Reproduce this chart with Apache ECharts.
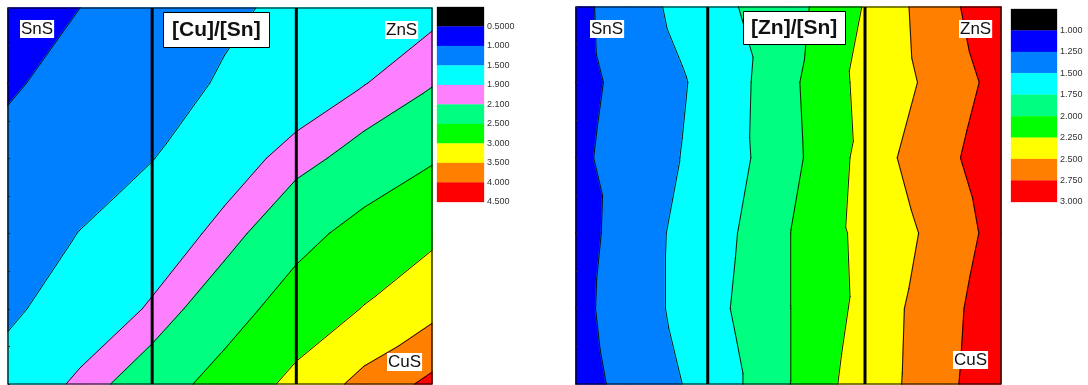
<!DOCTYPE html>
<html>
<head>
<meta charset="utf-8">
<script src="https://cdn.jsdelivr.net/npm/echarts@6/dist/echarts.min.js"></script>
<style>
  html, body { margin: 0; padding: 0; background: #fff; }
  #chart { width: 1088px; height: 385px; }
</style>
</head>
<body>
<div id="chart"></div>
<script>
// ---- [Cu]/[Sn] map: node positions (fraction across / down the panel) and measured ratios ----
const cuCols = [0, 0.17, 0.34, 0.51, 0.68, 0.84, 1];
const cuRows = [0, 0.2, 0.4, 0.6, 0.8, 1];
const cuSnValues = [
  [0.78, 1.00, 1.22, 1.43, 1.59, 1.70, 1.82],
  [0.95, 1.145, 1.34, 1.54, 1.72, 1.89, 2.08],
  [1.12, 1.31, 1.49, 1.76, 2.00, 2.22, 2.46],
  [1.29, 1.51, 1.72, 1.98, 2.36, 2.65, 2.90],
  [1.435, 1.68, 1.935, 2.31, 2.70, 3.02, 3.35],
  [1.65, 1.96, 2.29, 2.66, 3.13, 3.65, 4.12]
];
const cuLevels = [0.5, 1.0, 1.5, 1.9, 2.1, 2.5, 3.0, 3.5, 4.0, 4.5];
const cuLevelLabels = ['0.5000', '1.000', '1.500', '1.900', '2.100', '2.500', '3.000', '3.500', '4.000', '4.500'];
const cuColors = ['#000000', '#0000ff', '#0080ff', '#00ffff', '#ff80ff', '#00ff80', '#00ff00', '#ffff00', '#ff8000', '#ff0000'];
const cuDividers = [0.34, 0.68];

// ---- [Zn]/[Sn] map ----
const znCols = [0, 0.125, 0.25, 0.375, 0.5, 0.625, 0.75, 0.875, 1];
const znRows = [0, 0.2, 0.4, 0.6, 0.8, 1];
const znSnValues = [
  [1.18, 1.38, 1.57, 1.74, 1.91, 2.14, 2.43, 2.69, 2.94],
  [1.17, 1.325, 1.48, 1.67, 1.94, 2.22, 2.41, 2.62, 2.84],
  [1.20, 1.35, 1.507, 1.68, 1.92, 2.205, 2.49, 2.70, 2.91],
  [1.15, 1.36, 1.56, 1.74, 1.99, 2.23, 2.41, 2.61, 2.85],
  [1.18, 1.37, 1.56, 1.77, 1.99, 2.22, 2.46, 2.68, 2.91],
  [1.15, 1.325, 1.50, 1.71, 1.99, 2.27, 2.47, 2.70, 2.94]
];
const znLevels = [1.0, 1.25, 1.5, 1.75, 2.0, 2.25, 2.5, 2.75, 3.0];
const znLevelLabels = ['1.000', '1.250', '1.500', '1.750', '2.000', '2.250', '2.500', '2.750', '3.000'];
const znColors = ['#000000', '#0000ff', '#0080ff', '#00ffff', '#00ff80', '#00ff00', '#ffff00', '#ff8000', '#ff0000'];
const znDividers = [0.31, 0.68];

// Split every grid cell into two triangles (linear interpolation inside each)
function triangles(cols, rows, vals) {
  const tris = [];
  for (let r = 0; r < rows.length - 1; r++) {
    for (let c = 0; c < cols.length - 1; c++) {
      const p00 = [cols[c], rows[r], vals[r][c]];
      const p10 = [cols[c + 1], rows[r], vals[r][c + 1]];
      const p01 = [cols[c], rows[r + 1], vals[r + 1][c]];
      const p11 = [cols[c + 1], rows[r + 1], vals[r + 1][c + 1]];
      tris.push([p00, p10, p01]);
      tris.push([p10, p11, p01]);
    }
  }
  return tris;
}

// Keep the part of a polygon above (or below) a level
function clip(poly, L, keepAbove) {
  const out = [];
  for (let i = 0; i < poly.length; i++) {
    const a = poly[i], b = poly[(i + 1) % poly.length];
    const ina = keepAbove ? a[2] >= L : a[2] <= L;
    const inb = keepAbove ? b[2] >= L : b[2] <= L;
    if (ina) out.push(a);
    if (ina !== inb) {
      const t = (L - a[2]) / (b[2] - a[2]);
      out.push([a[0] + t * (b[0] - a[0]), a[1] + t * (b[1] - a[1]), L]);
    }
  }
  return out;
}

// Filled bands between consecutive levels
function bandPolygons(tris, levels, colors) {
  const polys = [];
  tris.forEach(tri => {
    for (let k = 0; k < levels.length; k++) {
      const lo = k === 0 ? -Infinity : levels[k - 1];
      const hi = k === levels.length - 1 ? Infinity : levels[k];
      let p = tri;
      if (lo !== -Infinity) p = clip(p, lo, true);
      if (p.length >= 3 && hi !== Infinity) p = clip(p, hi, false);
      if (p.length >= 3) {
        const cx = p.reduce((s, q) => s + q[0], 0) / p.length;
        const cy = p.reduce((s, q) => s + q[1], 0) / p.length;
        polys.push({ pts: p, color: colors[k], cx, cy });
      }
    }
  });
  return polys;
}

// Iso-line segments at each level
function isoSegments(tris, levels) {
  const segs = [];
  tris.forEach(tri => {
    levels.forEach(L => {
      const pts = [];
      for (let i = 0; i < 3; i++) {
        const a = tri[i], b = tri[(i + 1) % 3];
        if ((a[2] < L && b[2] >= L) || (a[2] >= L && b[2] < L)) {
          const t = (L - a[2]) / (b[2] - a[2]);
          pts.push([a[0] + t * (b[0] - a[0]), a[1] + t * (b[1] - a[1])]);
        }
      }
      if (pts.length === 2) segs.push(pts);
    });
  });
  return segs;
}

const FONT = "'Liberation Sans', Arial, Helvetica, sans-serif";

function mapSeries(axisIdx, cols, rows, vals, levels, colors, dividers) {
  const tris = triangles(cols, rows, vals);
  const polys = bandPolygons(tris, levels, colors);
  const segs = isoSegments(tris, levels);
  const series = [];
  series.push({
    type: 'custom', xAxisIndex: axisIdx, yAxisIndex: axisIdx, silent: true, z: 1,
    data: polys.map(p => [p.cx, p.cy]),
    renderItem: (params, api) => {
      const p = polys[params.dataIndex];
      return {
        type: 'polygon',
        shape: { points: p.pts.map(q => api.coord([q[0], q[1]])) },
        style: { fill: p.color, stroke: p.color, lineWidth: 1.4, lineJoin: 'round' }
      };
    }
  });
  series.push({
    type: 'custom', xAxisIndex: axisIdx, yAxisIndex: axisIdx, silent: true, z: 2,
    data: segs.map(s => [(s[0][0] + s[1][0]) / 2, (s[0][1] + s[1][1]) / 2]),
    renderItem: (params, api) => {
      const s = segs[params.dataIndex];
      const a = api.coord(s[0]), b = api.coord(s[1]);
      return {
        type: 'line',
        shape: { x1: a[0], y1: a[1], x2: b[0], y2: b[1] },
        style: { stroke: '#000', lineWidth: 0.9, lineCap: 'round' }
      };
    }
  });
  dividers.forEach(d => {
    series.push({
      type: 'line', xAxisIndex: axisIdx, yAxisIndex: axisIdx, silent: true, z: 3,
      symbol: 'none', data: [[d, 0], [d, 1]],
      lineStyle: { color: '#000', width: 3 }
    });
  });
  series.push({
    type: 'custom', xAxisIndex: axisIdx, yAxisIndex: axisIdx, silent: true, z: 4,
    data: [[0.5, 0.5]],
    renderItem: (params) => {
      const cs = params.coordSys;
      return {
        type: 'rect',
        shape: { x: cs.x, y: cs.y, width: cs.width, height: cs.height },
        style: { fill: 'none', stroke: '#000', lineWidth: 1.2 }
      };
    }
  });
  return series;
}

function barSeries(axisIdx, colors) {
  return {
    type: 'custom', xAxisIndex: axisIdx, yAxisIndex: axisIdx, silent: true,
    data: colors.map((c, i) => [0.5, i + 0.5]),
    renderItem: (params, api) => {
      const i = params.dataIndex;
      const cs = params.coordSys;
      const y0 = api.coord([0, i])[1], y1 = api.coord([0, i + 1])[1];
      return {
        type: 'rect',
        shape: { x: cs.x, y: Math.min(y0, y1), width: cs.width, height: Math.abs(y1 - y0) },
        style: { fill: colors[i], stroke: colors[i], lineWidth: 0.3 }
      };
    }
  };
}

const mapX = () => ({ type: 'value', min: 0, max: 1, show: false });
const mapY = (idx) => ({
  type: 'value', gridIndex: idx, min: 0, max: 1, interval: 0.1, inverse: true, z: 10,
  axisLine: { show: false }, splitLine: { show: false }, axisLabel: { show: false },
  axisTick: { show: true, inside: true, length: 2, lineStyle: { color: '#222', width: 1 } }
});
const barY = (idx, labels) => ({
  type: 'value', gridIndex: idx, min: 0, max: labels.length, interval: 1, inverse: true,
  position: 'right',
  axisLine: { show: false }, axisTick: { show: false }, splitLine: { show: false },
  axisLabel: {
    show: true, margin: 3, fontSize: 9, color: '#333', fontFamily: FONT,
    formatter: v => (v >= 1 ? labels[Math.round(v) - 1] : '')
  }
});

const boxTitle = (text, left, top, padH, padV) => ({
  text, left, top,
  backgroundColor: '#fff', borderColor: '#000', borderWidth: 1,
  padding: [padV, padH],
  textStyle: { fontFamily: FONT, fontWeight: 'bold', fontSize: 21, lineHeight: 24, color: '#111' }
});
const phaseLabel = (text, left, top) => ({
  text, left, top,
  backgroundColor: '#fff', padding: [0, 1],
  textStyle: { fontFamily: FONT, fontWeight: 'normal', fontSize: 17, lineHeight: 18, color: '#111' }
});

const chart = echarts.init(document.getElementById('chart'), null, { renderer: 'canvas' });
chart.setOption({
  animation: false,
  backgroundColor: '#fff',
  grid: [
    { left: 8, top: 8, width: 424, height: 376 },
    { left: 437, top: 7, width: 47, height: 195 },
    { left: 576, top: 7, width: 425, height: 377 },
    { left: 1011, top: 9, width: 46, height: 193 }
  ],
  xAxis: [
    Object.assign(mapX(), { gridIndex: 0 }),
    Object.assign(mapX(), { gridIndex: 1 }),
    Object.assign(mapX(), { gridIndex: 2 }),
    Object.assign(mapX(), { gridIndex: 3 })
  ],
  yAxis: [mapY(0), barY(1, cuLevelLabels), mapY(2), barY(3, znLevelLabels)],
  title: [
    boxTitle('[Cu]/[Sn]', 163, 12, 9, 6),
    boxTitle('[Zn]/[Sn]', 743, 11, 8, 5),
    phaseLabel('SnS', 20, 20),
    phaseLabel('ZnS', 385, 21),
    phaseLabel('CuS', 387, 353),
    phaseLabel('SnS', 590, 20),
    phaseLabel('ZnS', 959, 20),
    phaseLabel('CuS', 953, 351)
  ],
  series: [].concat(
    mapSeries(0, cuCols, cuRows, cuSnValues, cuLevels, cuColors, cuDividers),
    [barSeries(1, cuColors)],
    mapSeries(2, znCols, znRows, znSnValues, znLevels, znColors, znDividers),
    [barSeries(3, znColors)]
  )
});
</script>
</body>
</html>
